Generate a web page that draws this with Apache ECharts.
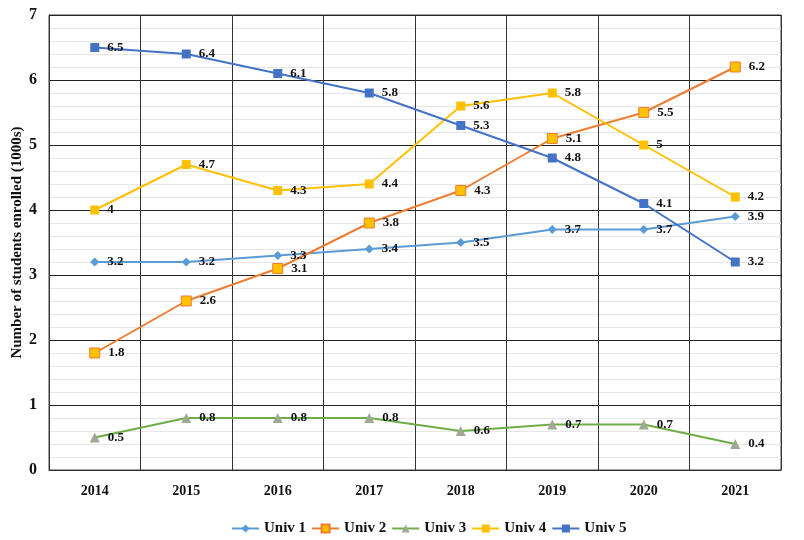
<!DOCTYPE html>
<html><head><meta charset="utf-8">
<script src="https://cdn.jsdelivr.net/npm/echarts@6/dist/echarts.min.js"></script>
<style>html,body{margin:0;padding:0;background:#fff}#c{width:804px;height:540px}</style>
</head><body><div id="c"></div>
<script>
var years = ['2014','2015','2016','2017','2018','2019','2020','2021'];
var univ1 = [3.2,3.2,3.3,3.4,3.5,3.7,3.7,3.9];
var univ2 = [1.8,2.6,3.1,3.8,4.3,5.1,5.5,6.2];
var univ3 = [0.5,0.8,0.8,0.8,0.6,0.7,0.7,0.4];
var univ4 = [4,4.7,4.3,4.4,5.6,5.8,5,4.2];
var univ5 = [6.5,6.4,6.1,5.8,5.3,4.8,4.1,3.2];
var FONT = '"Liberation Serif","Times New Roman",serif';
function s(name, data, color, symbol, size, fill, border){
  return {name:name,type:'line',data:data,symbol:symbol,symbolSize:size,
    lineStyle:{color:color,width:2},
    itemStyle:{color:fill,borderColor:border||fill,borderWidth:border?1:0},
    label:{show:true,position:'right',distance:8,color:'#111',fontFamily:FONT,fontWeight:'bold',fontSize:13},
    emphasis:{disabled:true}};
}
var chart = echarts.init(document.getElementById('c'));
chart.setOption({
  animation:false,
  textStyle:{fontFamily:FONT},
  grid:{left:49,right:23,top:15,bottom:70,outerBoundsMode:'none',containLabel:false,show:true,borderColor:'#444',borderWidth:1},
  legend:{top:516,left:226,itemWidth:27,itemHeight:10,itemGap:5,
    textStyle:{fontFamily:FONT,fontWeight:'bold',fontSize:15,color:'#111'}},
  xAxis:{type:'category',data:years,boundaryGap:true,
    axisLine:{lineStyle:{color:'#333'}},axisTick:{show:false},
    splitLine:{show:true,interval:0,lineStyle:{color:'#333',width:1}},
    axisLabel:{fontFamily:FONT,fontWeight:'bold',fontSize:14,color:'#111',margin:14}},
  yAxis:{type:'value',min:0,max:7,interval:1,
    name:'Number of students enrolled (1000s)',nameLocation:'middle',nameGap:24,nameMoveOverlap:false,
    nameTextStyle:{fontFamily:FONT,fontWeight:'bold',fontSize:15,color:'#111'},
    axisLine:{show:true,lineStyle:{color:'#333'}},axisTick:{show:false},
    axisLabel:{fontFamily:FONT,fontWeight:'bold',fontSize:16,color:'#111',margin:12},
    splitLine:{lineStyle:{color:'#222',width:1}},
    minorTick:{show:false,splitNumber:5},
    minorSplitLine:{show:true,lineStyle:{color:'#e6e6e6',width:1}}},
  series:[
    s('Univ 1',univ1,'#5B9BD5','diamond',9,'#5B9BD5'),
    s('Univ 2',univ2,'#ED7D31','rect',10,'#FFC000','#ED7D31'),
    s('Univ 3',univ3,'#70AD47','triangle',10,'#A0A896'),
    s('Univ 4',univ4,'#FFC000','rect',9,'#FFC000'),
    s('Univ 5',univ5,'#4472C4','rect',9,'#4472C4')
  ]
});
</script></body></html>
